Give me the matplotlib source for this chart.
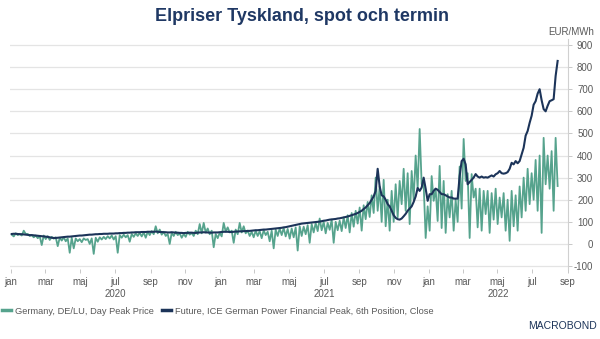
"""
Elpriser Tyskland, spot och termin — spot (day peak) vs. futures (6th position)
"""
import matplotlib
matplotlib.use("Agg")
import matplotlib.pyplot as plt
import matplotlib.dates as mdates
import matplotlib.transforms as mtransforms
import pandas as pd

# ─────────────────────────────────────────────────────────────────────────────
# Data (EUR/MWh). Two points per week from 2020-01-02:
# (weekday level, weekend / holiday level)
# ─────────────────────────────────────────────────────────────────────────────
START = "2020-01-02"
STEP = "84h"

spot_2020 = [
    42, 34, 48, 40, 46, 38, 60, 45, 45, 36, 40, 30, 38, 26, 35, -5,
    38, 22, 35, 18, 32, 24, 30, -10, 28, 15, 30, 12, 25, -40, 28, -20,
    25, 12, 22, 8, 25, 18, 22, 0, 25, -45, 28, 10, 30, 20, 32, 22,
    35, 25, 38, 20, 35, -40, 40, 28, 42, 30, 40, 10, 45, 32, 48, 36,
    50, 34, 52, 28, 55, 40, 58, 44, 80, 48, 65, 42, 55, 36, 45, 0,
    50, 36, 55, 40, 48, 28, 45, 32, 55, 42, 50, 36, 60, 44, 90, 48,
    95, 52, 70, 44, 60, -15, 45, 26,
]
spot_2021 = [
    50, 34, 95, 56, 75, 52, 60, 5, 65, 44, 95, 52, 80, 48, 60, 36,
    55, 30, 60, 36, 58, 26, 62, 40, 55, 12, 60, -20, 65, 36, 70, 40,
    72, 34, 68, 24, 70, 30, 75, -30, 80, 36, 78, 44, 85, 5, 90, 52,
    95, 58, 115, 62, 100, 48, 95, 64, 110, 5, 100, 62, 105, 58, 120, 72,
    130, 52, 140, 78, 150, 92, 165, 60, 175, 112, 190, 122, 220, 140, 300, 150,
    260, 100, 290, 80, 200, 60, 240, 100, 270, 120, 285, 180, 340, 150, 320, 90,
    330, 200, 400, 250, 520, 270, 270, 27,
]
spot_2022 = [
    170, 60, 307, 195, 250, 104, 353, 72, 285, 50, 225, 120, 240, 60, 200, 100,
    350, 160, 475, 285, 320, 27, 316, 210, 250, 75, 250, 60, 240, 135, 240, 50,
    230, 110, 250, 90, 210, 120, 230, 60, 200, 14, 240, 80, 220, 60, 260, 120,
    300, 150, 340, 180, 320, 200, 380, 150, 400, 50, 480, 270, 400, 250, 420, 150,
    480, 262,
]

future_2020 = [
    45, 46, 46, 45, 44, 44, 43, 42, 41, 40, 40, 39, 38, 37, 36, 35,
    34, 33, 32, 30, 28, 27, 27, 28, 29, 30, 31, 32, 33, 33, 34, 35,
    36, 37, 38, 38, 39, 40, 41, 42, 42, 43, 44, 44, 45, 45, 46, 46,
    46, 47, 47, 47, 48, 48, 49, 49, 50, 50, 51, 51, 52, 52, 53, 53,
    53, 54, 54, 54, 55, 55, 55, 55, 56, 55, 54, 54, 53, 53, 52, 52,
    53, 52, 51, 51, 50, 50, 49, 50, 50, 51, 51, 50, 50, 51, 52, 52,
    53, 52, 52, 51, 51, 52, 52, 52,
]
future_2021 = [
    53, 54, 55, 55, 55, 54, 54, 55, 56, 56, 57, 57, 58, 58, 59, 59,
    60, 61, 62, 62, 63, 64, 65, 65, 66, 67, 68, 69, 70, 71, 72, 73,
    75, 76, 78, 80, 82, 84, 86, 88, 90, 92, 93, 94, 95, 96, 97, 98,
    99, 100, 101, 103, 105, 106, 108, 110, 111, 112, 113, 115, 116, 118, 120, 122,
    124, 127, 130, 133, 136, 140, 145, 150, 158, 165, 175, 185, 200, 215, 240, 340,
    260, 220, 215, 200, 180, 170, 150, 130, 118, 112, 110, 115, 125, 136, 150, 160,
    170, 190, 215, 253, 240, 255, 300, 250,
]
future_2022 = [
    195, 225, 225, 240, 250, 245, 235, 225, 225, 220, 215, 210, 210, 205, 205, 205,
    307, 375, 385, 360, 270, 280, 290, 300, 316, 305, 300, 305, 300, 302, 300, 305,
    310, 305, 315, 320, 330, 320, 318, 320, 325, 340, 367, 360, 375, 365, 375, 405,
    435, 490, 511, 548, 580, 630, 646, 680, 700, 650, 610, 600, 625, 646, 650, 655,
    760, 828,
]

month_labels = ["jan", "mar", "maj", "jul", "sep", "nov"]
year_labels = ["2020", "2021", "2022"]
y_ticks = list(range(-100, 1000, 100))

TITLE = "Elpriser Tyskland, spot och termin"
UNIT = "EUR/MWh"
SPOT_NAME = "Germany, DE/LU, Day Peak Price"
FUTURE_NAME = "Future, ICE German Power Financial Peak, 6th Position, Close"

GREEN = "#56a38d"
NAVY = "#1c3459"
GRAY_TXT = "#595959"
GRID = "#e4e4e4"

plt.rcParams["font.family"] = ["Liberation Sans", "DejaVu Sans"]


def build_series():
    spot = spot_2020 + spot_2021 + spot_2022
    fut = future_2020 + future_2021 + future_2022
    spot_s = pd.Series(spot, index=pd.date_range(START, periods=len(spot), freq=STEP))
    fut_s = pd.Series(fut, index=pd.date_range(START, periods=len(fut), freq=STEP))
    return spot_s, fut_s


def main():
    spot_s, fut_s = build_series()

    fig = plt.figure(figsize=(6.0, 3.39), dpi=100)
    ax = fig.add_axes([0.0167, 0.2074, 0.9303, 0.6761])

    ax.plot(spot_s.index, spot_s.values, color=GREEN, linewidth=1.3,
            solid_joinstyle="round", label=SPOT_NAME, zorder=3)
    ax.plot(fut_s.index, fut_s.values, color=NAVY, linewidth=1.5,
            solid_joinstyle="round", label=FUTURE_NAME, zorder=4)

    x0, x1 = pd.Timestamp("2019-12-30"), pd.Timestamp("2022-09-02")
    ax.set_xlim(x0, x1)
    ax.set_ylim(-112, 925)

    # y axis on the right, labels right-aligned
    ax.yaxis.tick_right()
    ax.set_yticks(y_ticks)
    ax.set_yticklabels([str(v) for v in y_ticks])
    ax.tick_params(axis="y", direction="out", length=3, width=0.6, color="#bfbfbf",
                   pad=15, labelsize=7, labelcolor=GRAY_TXT)
    for lab in ax.get_yticklabels():
        lab.set_horizontalalignment("right")
    ax.grid(axis="y", color=GRID, linewidth=0.9)
    ax.set_axisbelow(True)

    # x axis: every second month
    ticks = pd.date_range("2020-01-01", "2022-09-01", freq="2MS")
    ax.set_xticks(ticks)
    ax.set_xticklabels([month_labels[(t.month - 1) // 2] for t in ticks])
    ax.tick_params(axis="x", direction="out", length=3, width=0.6, color="#bfbfbf",
                   pad=3, labelsize=7, labelcolor=GRAY_TXT)

    for side in ["top", "left", "bottom"]:
        ax.spines[side].set_visible(False)
    ax.spines["right"].set_color("#d0d0d0")
    ax.spines["right"].set_linewidth(0.8)

    # year labels centred on the visible part of each year
    trans = mtransforms.blended_transform_factory(ax.transData, ax.transAxes)
    for yl in year_labels:
        ys = max(pd.Timestamp(f"{yl}-01-01"), x0)
        ye = min(pd.Timestamp(f"{int(yl) + 1}-01-01"), x1)
        mid = ys + (ye - ys) / 2
        ax.text(mdates.date2num(mid), -0.11, yl, transform=trans, ha="center",
                va="center", fontsize=7, color=GRAY_TXT)

    fig.text(594 / 600, 1 - 32 / 339, UNIT, ha="right", va="center",
             fontsize=7, color=GRAY_TXT)

    fig.text(0.503, 0.95, TITLE, ha="center", va="center", fontsize=13,
             fontweight="bold", color="#1f3864")

    ax.legend(loc="center left", bbox_to_anchor=(0.0, 1 - 311 / 339),
              bbox_transform=fig.transFigure, ncol=2, frameon=False,
              fontsize=6.7, labelcolor=GRAY_TXT, handlelength=1.0,
              handletextpad=0.4, columnspacing=0.9, borderaxespad=0,
              borderpad=0.2)
    for h in ax.get_legend().get_lines():
        h.set_linewidth(2.5)

    fig.text(0.995, 1 - 326 / 339, "MACROBOND", ha="right", va="center",
             fontsize=7.5, color=NAVY)

    fig.savefig("out.png", dpi=100, facecolor="white")
    plt.close(fig)


if __name__ == "__main__":
    main()
